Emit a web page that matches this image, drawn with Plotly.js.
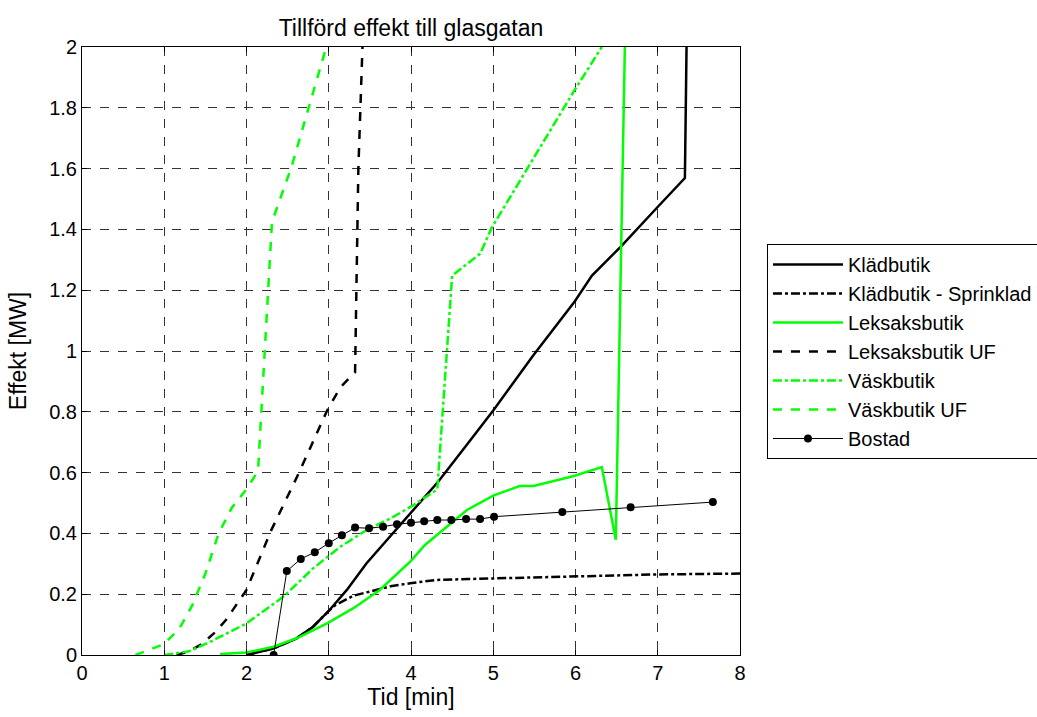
<!DOCTYPE html>
<html>
<head>
<meta charset="utf-8">
<script src="https://cdn.plot.ly/plotly-3.0.1.min.js"></script>
<style>html,body{margin:0;padding:0;background:#fff;}#chart{width:1037px;height:717px;}</style>
</head>
<body>
<div id="chart"></div>
<script>
// Klädbutik
const kladX = [2.0, 2.33, 2.61, 2.81, 3.01, 3.22, 3.46, 3.78, 4.03, 4.33, 4.66, 5.0, 5.49, 5.99, 6.2, 6.56, 7.01, 7.33, 7.35];
const kladY = [0, 0.022, 0.055, 0.093, 0.148, 0.214, 0.302, 0.4, 0.477, 0.57, 0.685, 0.804, 0.987, 1.163, 1.248, 1.346, 1.477, 1.569, 2.0];
// Klädbutik - Sprinklad
const sprX = [2.0, 2.33, 2.61, 2.81, 3.0, 3.08, 3.3, 3.54, 3.75, 3.99, 4.31, 4.7, 5.0, 6.0, 7.0, 8.0];
const sprY = [0, 0.022, 0.055, 0.093, 0.145, 0.164, 0.195, 0.212, 0.226, 0.236, 0.247, 0.25, 0.252, 0.259, 0.265, 0.268];
// Leksaksbutik
const lekX = [1.68, 2.0, 2.33, 2.61, 2.98, 3.3, 3.62, 3.99, 4.17, 4.43, 4.68, 5.0, 5.32, 5.49, 5.97, 6.32, 6.49, 6.6];
const lekY = [0.003, 0.008, 0.027, 0.055, 0.104, 0.154, 0.214, 0.307, 0.362, 0.422, 0.477, 0.524, 0.556, 0.556, 0.588, 0.618, 0.379, 2.0];
// Leksaksbutik UF
const lekUfX = [1.15, 1.3, 1.45, 1.6, 1.75, 2.0, 2.3, 2.63, 2.98, 3.14, 3.32, 3.36, 3.41];
const lekUfY = [0, 0.012, 0.035, 0.07, 0.115, 0.214, 0.41, 0.595, 0.804, 0.88, 0.93, 1.6, 2.0];
// Väskbutik
const vaskX = [1.0, 1.3, 1.6, 2.0, 2.45, 2.81, 3.14, 3.46, 3.79, 4.03, 4.32, 4.5, 4.84, 4.98, 5.97, 6.32];
const vaskY = [0, 0.012, 0.049, 0.104, 0.192, 0.285, 0.356, 0.411, 0.455, 0.493, 0.545, 1.248, 1.32, 1.405, 1.85, 2.0];
// Väskbutik UF
const vaskUfX = [0.65, 0.99, 1.18, 1.34, 1.5, 1.66, 1.82, 1.99, 2.14, 2.31, 2.55, 2.97];
const vaskUfY = [0, 0.035, 0.085, 0.163, 0.268, 0.399, 0.484, 0.542, 0.605, 1.425, 1.608, 2.0];
// Bostad
const bosX = [2.33, 2.49, 2.66, 2.83, 3.0, 3.16, 3.32, 3.49, 3.66, 3.83, 4.0, 4.16, 4.32, 4.49, 4.67, 4.84, 5.01, 5.84, 6.67, 7.67];
const bosY = [0, 0.276, 0.316, 0.338, 0.368, 0.394, 0.419, 0.417, 0.422, 0.43, 0.435, 0.44, 0.444, 0.444, 0.447, 0.447, 0.455, 0.47, 0.486, 0.503];

const xTicks = [0, 1, 2, 3, 4, 5, 6, 7, 8];
const yTicks = [0, 0.2, 0.4, 0.6, 0.8, 1, 1.2, 1.4, 1.6, 1.8, 2];
const yTickText = ['0', '0.2', '0.4', '0.6', '0.8', '1', '1.2', '1.4', '1.6', '1.8', '2'];

const GREEN = '#00ff00';
function tr(name, x, y, color, dash, width, grp) {
  return {x: x, y: y, name: name, mode: 'lines', type: 'scatter', legendgroup: grp,
    line: {color: color, dash: dash, width: width}, cliponaxis: true};
}
const data = [
  tr('Klädbutik', kladX, kladY, '#000', 'solid', 2.5, 'a'),
  tr('Klädbutik - Sprinklad', sprX, sprY, '#000', 'dashdot', 2.5, 'b'),
  tr('Leksaksbutik', lekX, lekY, GREEN, 'solid', 2.5, 'c'),
  tr('Leksaksbutik UF', lekUfX, lekUfY, '#000', 'dash', 2.5, 'd'),
  tr('Väskbutik', vaskX, vaskY, GREEN, 'dashdot', 2.5, 'e'),
  tr('Väskbutik UF', vaskUfX, vaskUfY, GREEN, 'dash', 2.5, 'f'),
  {x: bosX, y: bosY, name: 'Bostad', mode: 'lines+markers', type: 'scatter', legendgroup: 'g',
   line: {color: '#000', width: 1}, marker: {color: '#000', size: 8}, cliponaxis: true}
];

const axisCommon = {
  showline: true, mirror: 'ticks', linecolor: '#000', linewidth: 1,
  ticks: 'inside', ticklen: 5, tickcolor: '#000',
  showgrid: true, gridcolor: '#333', griddash: 'dash', gridwidth: 1,
  zeroline: false, tickfont: {size: 20, color: '#000'}
};

const layout = {
  width: 1037, height: 717,
  margin: {l: 82, r: 297, t: 47, b: 62},
  paper_bgcolor: '#fff', plot_bgcolor: '#fff',
  font: {family: 'Liberation Sans, Arial, sans-serif', color: '#000'},
  title: {text: 'Tillförd effekt till glasgatan', x: 0.3963, xanchor: 'center', y: 0.961, yanchor: 'middle',
          font: {size: 23, color: '#000'}},
  xaxis: Object.assign({}, axisCommon, {range: [0, 8], tickvals: xTicks, ticktext: xTicks.map(String),
          title: {text: 'Tid [min]', font: {size: 23}, standoff: 0}}),
  yaxis: Object.assign({}, axisCommon, {range: [0, 2], tickvals: yTicks, ticktext: yTickText,
          title: {text: 'Effekt [MW]', font: {size: 23}, standoff: 16}}),
  showlegend: true,
  legend: {xref: 'container', yref: 'container', x: 0.7396, xanchor: 'left', y: 0.6597, yanchor: 'top',
           bordercolor: '#000', borderwidth: 1,
           bgcolor: '#fff', font: {size: 20, color: '#000'}, traceorder: 'grouped', tracegroupgap: 0,
           itemwidth: 70}
};

Plotly.newPlot('chart', data, layout, {displayModeBar: false, staticPlot: true});
</script>
</body>
</html>
